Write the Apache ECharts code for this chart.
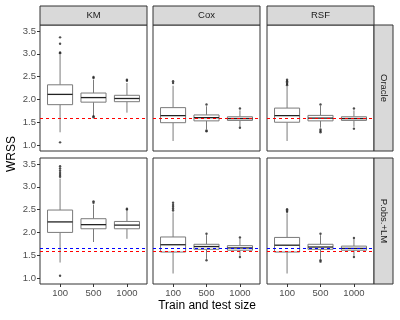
<!DOCTYPE html>
<html>
<head>
<meta charset="utf-8" />
<script src="https://cdn.jsdelivr.net/npm/echarts@6/dist/echarts.min.js"></script>
<style>
  html, body { margin: 0; padding: 0; background: #fff; }
  #chart { width: 400px; height: 320px; }
</style>
</head>
<body>
<div id="chart"></div>
<script>
// categories
var sizes = ['100', '500', '1000'];
var methods = ['KM', 'Cox', 'RSF'];
var rowNames = ['Oracle', 'P.obs.+LM'];
var yTicks = [1.0, 1.5, 2.0, 2.5, 3.0, 3.5];

// box stats per size: [low whisker, q1, median, q3, high whisker]
var oracleKM  = [[1.28, 1.885, 2.11, 2.32, 2.98], [1.64, 1.94, 2.04, 2.14, 2.43], [1.71, 1.95, 2.02, 2.09, 2.36]];
var oracleCox = [[1.09, 1.49, 1.645, 1.82, 2.30], [1.35, 1.53, 1.60, 1.66, 1.85], [1.40, 1.54, 1.58, 1.62, 1.76]];
var oracleRSF = [[1.09, 1.50, 1.645, 1.81, 2.28], [1.38, 1.53, 1.59, 1.65, 1.86], [1.40, 1.54, 1.58, 1.62, 1.76]];
var pobsKM    = [[1.34, 2.00, 2.23, 2.49, 3.18], [1.79, 2.08, 2.17, 2.30, 2.61], [1.86, 2.08, 2.16, 2.24, 2.48]];
var pobsCox   = [[1.10, 1.57, 1.73, 1.90, 2.44], [1.42, 1.63, 1.69, 1.74, 1.94], [1.49, 1.61, 1.66, 1.71, 1.86]];
var pobsRSF   = [[1.10, 1.57, 1.72, 1.89, 2.42], [1.42, 1.63, 1.68, 1.74, 1.94], [1.49, 1.61, 1.65, 1.70, 1.86]];

// outliers: [size index, value]
var oracleKMOut  = [[0, 3.01], [0, 3.03], [0, 3.22], [0, 3.36], [0, 1.06], [1, 2.47], [1, 2.49], [1, 1.61], [1, 1.63], [2, 2.41], [2, 2.43]];
var oracleCoxOut = [[0, 2.36], [0, 2.40], [1, 1.89], [1, 1.30], [1, 1.32], [2, 1.80], [2, 1.38]];
var oracleRSFOut = [[0, 2.31], [0, 2.34], [0, 2.37], [0, 2.40], [0, 2.43], [1, 1.89], [1, 1.28], [1, 1.31], [1, 1.34], [2, 1.80], [2, 1.36]];
var pobsKMOut    = [[0, 3.22], [0, 3.26], [0, 3.30], [0, 3.35], [0, 3.40], [0, 3.45], [0, 1.05], [1, 2.65], [1, 2.68], [2, 2.50], [2, 2.52]];
var pobsCoxOut   = [[0, 2.48], [0, 2.52], [0, 2.56], [0, 2.60], [0, 2.65], [1, 1.97], [1, 1.39], [2, 1.89], [2, 1.46]];
var pobsRSFOut   = [[0, 2.45], [0, 2.48], [0, 2.51], [1, 1.97], [1, 1.39], [1, 1.36], [2, 1.88], [2, 1.46]];

// dashed reference lines per row
var redLine = [1.58, 1.58];
var blueLine = [1.58, 1.655];

var boxes = [[oracleKM, oracleCox, oracleRSF], [pobsKM, pobsCox, pobsRSF]];
var outs = [[oracleKMOut, oracleCoxOut, oracleRSFOut], [pobsKMOut, pobsCoxOut, pobsRSFOut]];

var colX = [40, 153, 267];
var rowY = [25, 158];
var panelW = 107, panelH = 126;
var font = '"Liberation Sans", Arial, sans-serif';

function renderBox(params, api) {
    var x = api.value(0);
    var lo = api.coord([x, api.value(1)]);
    var q1 = api.coord([x, api.value(2)]);
    var md = api.coord([x, api.value(3)]);
    var q3 = api.coord([x, api.value(4)]);
    var hi = api.coord([x, api.value(5)]);
    var hw = api.size([0.75, 0])[0] / 2;
    var grey = '#7a7a7a';
    return {
        type: 'group',
        children: [
            { type: 'line', shape: { x1: hi[0], y1: hi[1], x2: q3[0], y2: q3[1] }, style: { stroke: grey, lineWidth: 1 } },
            { type: 'line', shape: { x1: q1[0], y1: q1[1], x2: lo[0], y2: lo[1] }, style: { stroke: grey, lineWidth: 1 } },
            { type: 'rect', shape: { x: q3[0] - hw, y: q3[1], width: hw * 2, height: q1[1] - q3[1] },
              style: { fill: '#fff', stroke: grey, lineWidth: 1 } },
            { type: 'line', shape: { x1: md[0] - hw, y1: md[1], x2: md[0] + hw, y2: md[1] }, style: { stroke: '#222', lineWidth: 1.3 } }
        ]
    };
}

var grids = [], xAxes = [], yAxes = [], series = [], graphics = [];

for (var r = 0; r < 2; r++) {
    for (var c = 0; c < 3; c++) {
        var idx = grids.length;
        grids.push({
            left: colX[c], top: rowY[r], width: panelW, height: panelH,
            show: true, borderColor: '#333', borderWidth: 1, backgroundColor: '#fff'
        });
        xAxes.push({
            type: 'value', gridIndex: idx, min: 0.4, max: 3.6,
            axisLine: { show: false },
            splitLine: { show: false },
            axisTick: { show: r === 1, length: 3, lineStyle: { color: '#333' }, customValues: [1, 2, 3] },
            axisLabel: {
                show: r === 1, customValues: [1, 2, 3], margin: 4,
                color: '#4d4d4d', fontSize: 9.5, fontFamily: font,
                formatter: function (v) { return sizes[Math.round(v) - 1]; }
            }
        });
        yAxes.push({
            type: 'value', gridIndex: idx, min: 0.87, max: 3.63,
            axisLine: { show: false },
            splitLine: { show: false },
            axisTick: { show: c === 0, length: 3, lineStyle: { color: '#333' }, customValues: yTicks },
            axisLabel: {
                show: c === 0, customValues: yTicks, margin: 4,
                color: '#4d4d4d', fontSize: 9.5, fontFamily: font,
                formatter: function (v) { return v.toFixed(1); }
            }
        });
        var boxData = boxes[r][c].map(function (b, i) { return [i + 1].concat(b); });
        series.push({
            type: 'custom', xAxisIndex: idx, yAxisIndex: idx,
            renderItem: renderBox,
            encode: { x: 0, y: [1, 2, 3, 4, 5] },
            data: boxData, silent: true, z: 2
        });
        series.push({
            type: 'scatter', xAxisIndex: idx, yAxisIndex: idx,
            symbolSize: 2.4, itemStyle: { color: '#222' },
            data: outs[r][c].map(function (o) { return [o[0] + 1, o[1]]; }),
            silent: true, z: 3
        });
        series.push({
            type: 'line', xAxisIndex: idx, yAxisIndex: idx, data: [], z: 4,
            markLine: {
                silent: true, symbol: 'none', label: { show: false },
                data: [
                    { yAxis: blueLine[r], lineStyle: { color: '#0000ff', type: [3, 3], width: 1 } },
                    { yAxis: redLine[r], lineStyle: { color: '#ff0000', type: [3, 3], width: 1 } }
                ]
            }
        });
        if (r === 0) {
            graphics.push({
                type: 'rect', shape: { x: colX[c], y: 6, width: panelW, height: 19 },
                style: { fill: '#d9d9d9', stroke: '#333', lineWidth: 1 }
            });
            graphics.push({
                type: 'text', x: colX[c] + panelW / 2, y: 15.5,
                style: { text: methods[c], fill: '#1a1a1a', font: '9.5px ' + font, align: 'center', verticalAlign: 'middle' }
            });
        }
    }
    graphics.push({
        type: 'rect', shape: { x: 374, y: rowY[r], width: 19, height: panelH },
        style: { fill: '#d9d9d9', stroke: '#333', lineWidth: 1 }
    });
    graphics.push({
        type: 'text', x: 383.5, y: rowY[r] + panelH / 2, rotation: -Math.PI / 2,
        style: { text: rowNames[r], fill: '#1a1a1a', font: '9.5px ' + font, align: 'center', verticalAlign: 'middle' }
    });
}

graphics.push({
    type: 'text', x: 12, y: 154, rotation: Math.PI / 2,
    style: { text: 'WRSS', fill: '#000', font: '12px ' + font, align: 'center', verticalAlign: 'middle' }
});
graphics.push({
    type: 'text', x: 207, y: 306,
    style: { text: 'Train and test size', fill: '#000', font: '12px ' + font, align: 'center', verticalAlign: 'middle' }
});

var chart = echarts.init(document.getElementById('chart'), null, { renderer: 'canvas' });
chart.setOption({
    animation: false,
    backgroundColor: '#fff',
    grid: grids,
    xAxis: xAxes,
    yAxis: yAxes,
    series: series,
    graphic: graphics
});
</script>
</body>
</html>
